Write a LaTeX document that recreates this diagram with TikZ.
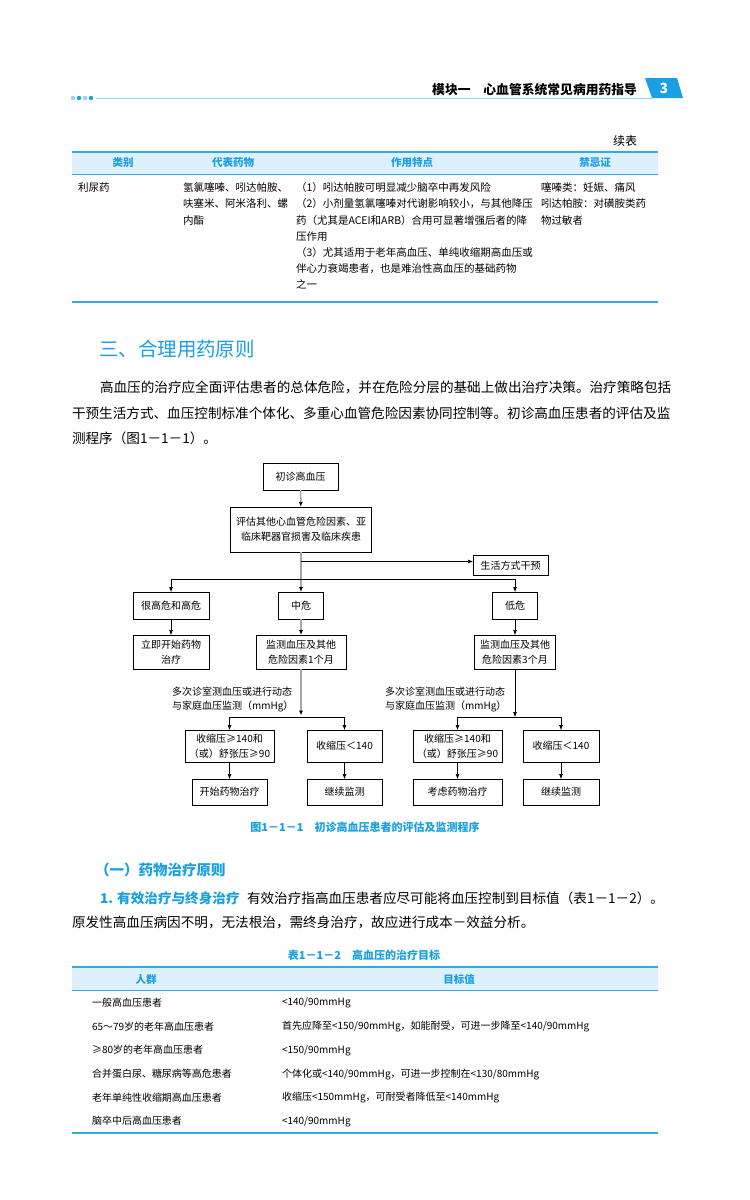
\documentclass[tikz,border=0pt]{standalone}
\usepackage{fontspec}
\setmainfont{Noto Sans CJK SC}
\usepackage{xcolor}
\usetikzlibrary{arrows.meta,positioning,calc}
\definecolor{ttlblue}{HTML}{1AA0E2}
\definecolor{rulblue}{HTML}{35AAE2}
\definecolor{bandblue}{HTML}{DDF0FB}
\definecolor{hdrline}{HTML}{8CD0F2}
\newcommand{\fsz}[2]{\fontsize{#1}{#2}\selectfont}

\begin{document}
\begin{tikzpicture}[x=1pt,y=-1pt,
		every node/.style={inner sep=0pt,outer sep=0pt},
		box/.style={draw,line width=0.6pt,align=center,font=\fsz{10}{15}},
		bline/.style={line width=0.6pt,-{Latex[length=5pt,width=4pt]}},
		gline/.style={draw=gray!70,line width=1.6pt,-{Latex[length=5pt,width=4pt,color=black]}},
		thtxt/.style={font=\bfseries\fsz{10.5}{12},text=ttlblue}]
	% Pagina
	\fill[white] (0,0) rectangle (750,1200);
	\useasboundingbox (0,0) rectangle (750,1200);
	
	% Intestazione
	\fill[ttlblue!45] (73,98) circle (2.2pt);
	\fill[ttlblue] (79,98) circle (2.2pt);
	\fill[ttlblue!45] (85,98) circle (2.2pt);
	\fill[ttlblue] (91,98) circle (2.2pt);
	\draw[hdrline,line width=0.9pt] (96,98) -- (652,98);
	\node[anchor=east,font=\bfseries\fsz{12.8}{14}] (runhead) at (637,90) {模块一　心血管系统常见病用药指导};
	\fill[ttlblue] (645,78) -- (677,78) -- (683,98) -- (652,98) -- cycle;
	\node[font=\bfseries\fsz{14}{14},text=white] (pageno) at (664,88) {3};
	
	% Tabella continuata
	\node[anchor=east,font=\fsz{12}{12}] (contd) at (637,141) {续表};
	\fill[bandblue] (72,152) rectangle (658,174);
	\draw[rulblue,line width=1.4pt] (72,152) -- (658,152);
	\draw[rulblue,line width=0.6pt] (72,174) -- (658,174);
	\draw[rulblue,line width=1.4pt] (72,302) -- (658,302);
	\node[thtxt] (hcat) at (123,163) {类别};
	\node[thtxt] (hdrug) at (233,163) {代表药物};
	\node[thtxt] (hfeat) at (412,163) {作用特点};
	\node[thtxt] (hcontra) at (595,163) {禁忌证};
	\node[anchor=north west,font=\fsz{10.5}{16.2},align=left] (rcat) at (78,182.8) {利尿药};
	\node[anchor=north west,font=\fsz{10.5}{16.2},align=left] (rdrug) at (183,182.8) {氢氯噻嗪、吲达帕胺、\\呋塞米、阿米洛利、螺\\内酯};
	\node[anchor=north west,font=\fsz{10.5}{16.2},align=left] (rfeat) at (296,182.8) {（1）吲达帕胺可明显减少脑卒中再发风险\\（2）小剂量氢氯噻嗪对代谢影响较小，与其他降压\\药（尤其是ACEI和ARB）合用可显著增强后者的降\\压作用\\（3）尤其适用于老年高血压、单纯收缩期高血压或\\伴心力衰竭患者，也是难治性高血压的基础药物\\之一};
	\node[anchor=north west,font=\fsz{10.5}{16.2},align=left] (rcontra) at (541,182.8) {噻嗪类：妊娠、痛风\\吲达帕胺：对磺胺类药\\物过敏者};
	
	% Sezione tre
	\node[anchor=west,font=\fsz{19.5}{20},text=ttlblue] (sec3) at (99,349) {三、合理用药原则};
	\node[anchor=west,font=\fsz{13.6}{14}] (par1a) at (100,387) {高血压的治疗应全面评估患者的总体危险，并在危险分层的基础上做出治疗决策。治疗策略包括};
	\node[anchor=west,font=\fsz{13.6}{14}] (par1b) at (72,413) {干预生活方式、血压控制标准个体化、多重心血管危险因素协同控制等。初诊高血压患者的评估及监};
	\node[anchor=west,font=\fsz{13.6}{14}] (par1c) at (72,438) {测程序（图1－1－1）。};
	
	% Diagramma di flusso
	\node[box,minimum width=75pt,minimum height=27pt] (init) at (300.5,476.5) {初诊高血压};
	\node[box,minimum width=141pt,minimum height=45pt] (eval) at (301,529.5) {评估其他心血管危险因素、亚\\临床靶器官损害及临床疾患};
	\node[box,minimum width=75pt,minimum height=20pt] (life) at (510.5,565.5) {生活方式干预};
	\node[box,minimum width=76pt,minimum height=27pt] (hi) at (171,605.5) {很高危和高危};
	\node[box,minimum width=45pt,minimum height=27pt] (mid) at (301,605.5) {中危};
	\node[box,minimum width=45pt,minimum height=27pt] (lo) at (515,605.5) {低危};
	\node[box,minimum width=76pt,minimum height=34pt] (hitx) at (171,652) {立即开始药物\\治疗};
	\node[box,minimum width=90pt,minimum height=34pt] (midmon) at (301,652) {监测血压及其他\\危险因素1个月};
	\node[box,minimum width=81pt,minimum height=34pt] (lomon) at (515,652) {监测血压及其他\\危险因素3个月};
	\node[anchor=north west,font=\fsz{10}{14},align=left] (midnote) at (172,686.5) {多次诊室测血压或进行动态\\与家庭血压监测（mmHg）};
	\node[anchor=north west,font=\fsz{10}{14},align=left] (lonote) at (385,686.5) {多次诊室测血压或进行动态\\与家庭血压监测（mmHg）};
	\node[box,minimum width=89pt,minimum height=32pt] (midhigh) at (229.5,746) {收缩压≥140和\\（或）舒张压≥90};
	\node[box,minimum width=75pt,minimum height=32pt] (midok) at (344.5,746) {收缩压＜140};
	\node[box,minimum width=89pt,minimum height=32pt] (lohigh) at (457.5,746) {收缩压≥140和\\（或）舒张压≥90};
	\node[box,minimum width=76pt,minimum height=32pt] (look) at (561,746) {收缩压＜140};
	\node[box,minimum width=75pt,minimum height=26pt] (midtx) at (229.5,792) {开始药物治疗};
	\node[box,minimum width=75pt,minimum height=26pt] (midcont) at (344.5,792) {继续监测};
	\node[box,minimum width=89pt,minimum height=26pt] (lotx) at (457.5,792) {考虑药物治疗};
	\node[box,minimum width=76pt,minimum height=26pt] (locont) at (561,792) {继续监测};
	
	\coordinate (lifej) at (301,561.5);
	\coordinate (riskj) at (301,579);
	\coordinate (midj) at (301,717);
	\coordinate (loj) at (515,717);
	
	\draw[gline] (init) -- (eval);
	\draw[gline] (eval) -- (mid);
	\draw[bline] (lifej) -- (lifej -| life.west);
	\draw[bline] (riskj) -| (hi);
	\draw[bline] (riskj) -| (lo);
	\draw[bline] (hi) -- (hitx);
	\draw[gline] (mid) -- (midmon);
	\draw[bline] (lo) -- (lomon);
	\draw[gline,shorten >=1.5pt] (midmon) -- (midj);
	\draw[bline] (midj) -| (midhigh);
	\draw[bline] (midj) -| (midok);
	\draw[bline] (lomon) -- (loj);
	\draw[bline] (loj) -| (lohigh);
	\draw[bline] (loj) -| (look);
	\draw[bline] (midhigh) -- (midtx);
	\draw[bline] (midok) -- (midcont);
	\draw[bline] (lohigh) -- (lotx);
	\draw[bline] (look) -- (locont);
	
	\node[font=\bfseries\fsz{11}{12},text=ttlblue] (figcap) at (365,827) {图1－1－1　初诊高血压患者的评估及监测程序};
	
	% Principi di terapia
	\node[anchor=west,font=\bfseries\fsz{14.5}{15},text=ttlblue] (sub1) at (95,870) {（一）药物治疗原则};
	\node[anchor=west,font=\bfseries\fsz{13.6}{14},text=ttlblue] (item1) at (100,898) {1. 有效治疗与终身治疗};
	\node[anchor=west,font=\fsz{13.6}{14}] (par2a) at (247,898) {有效治疗指高血压患者应尽可能将血压控制到目标值（表1－1－2）。};
	\node[anchor=west,font=\fsz{13.6}{14}] (par2b) at (72,922) {原发性高血压病因不明，无法根治，需终身治疗，故应进行成本－效益分析。};
	
	% Tabella obiettivi
	\node[font=\bfseries\fsz{11}{12},text=ttlblue] (tabcap) at (364,955) {表1－1－2　高血压的治疗目标};
	\fill[bandblue] (72,967) rectangle (658,990);
	\draw[rulblue,line width=1.4pt] (72,967) -- (658,967);
	\draw[rulblue,line width=0.6pt] (72,990) -- (658,990);
	\draw[rulblue,line width=1.4pt] (72,1133) -- (658,1133);
	\node[thtxt] (hgroup) at (146,979) {人群};
	\node[thtxt] (htarget) at (459,979) {目标值};
	\node[anchor=north west,font=\fsz{10}{23.7},align=left] (groups) at (92,998) {一般高血压患者\\65～79岁的老年高血压患者\\≥80岁的老年高血压患者\\合并蛋白尿、糖尿病等高危患者\\老年单纯性收缩期高血压患者\\脑卒中后高血压患者};
	\node[anchor=north west,font=\fsz{10}{23.7},align=left] (targets) at (282,998) {<140/90mmHg\\首先应降至<150/90mmHg，如能耐受，可进一步降至<140/90mmHg\\<150/90mmHg\\个体化或<140/90mmHg，可进一步控制在<130/80mmHg\\收缩压<150mmHg，可耐受者降低至<140mmHg\\<140/90mmHg};
\end{tikzpicture}
\end{document}
